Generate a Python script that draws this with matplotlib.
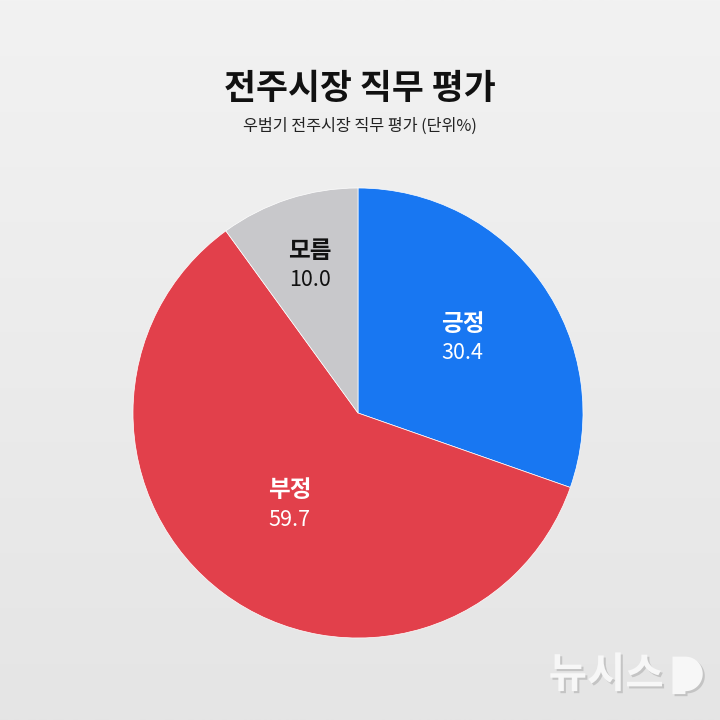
import numpy as np
import matplotlib.pyplot as plt
import matplotlib.patheffects as pe
from matplotlib.colors import LinearSegmentedColormap
from matplotlib.patches import Polygon

plt.rcParams['font.family'] = ['Noto Sans CJK KR', 'DejaVu Sans']

# 데이터
labels = ['긍정', '부정', '모름']
values = [30.4, 59.7, 10.0]
colors = ['#1877F2', '#E2404B', '#C8C8CB']
text_colors = ['white', 'white', '#111111']
label_dist = [0.57, 0.51, 0.69]

title = '전주시장 직무 평가'
subtitle = '우범기 전주시장 직무 평가 (단위%)'

fig = plt.figure(figsize=(7.2, 7.2), dpi=100)

# 배경 그라데이션
bg = fig.add_axes([0, 0, 1, 1])
grad = np.linspace(0, 1, 256).reshape(-1, 1)
cmap = LinearSegmentedColormap.from_list('bg', ['#F2F2F2', '#E5E5E5'])
bg.imshow(grad, aspect='auto', cmap=cmap, extent=[0, 1, 0, 1], origin='upper')
bg.set_xlim(0, 1)
bg.set_ylim(0, 1)
bg.axis('off')

fig.text(0.5, 0.877, title, ha='center', va='center', fontsize=25, fontweight='bold', color='#111111')
fig.text(0.5, 0.825, subtitle, ha='center', va='center', fontsize=11.7, color='#222222')

# 파이
R = 225 / 720
cx, cy = 358 / 720, 1 - 413 / 720
ax = fig.add_axes([cx - R, cy - R, 2 * R, 2 * R])
wedges, _ = ax.pie(values, colors=colors, startangle=90, counterclock=False, radius=1,
                   wedgeprops=dict(edgecolor='white', linewidth=0.5))
ax.set_xlim(-1, 1)
ax.set_ylim(-1, 1)
ax.set_aspect('equal')
ax.axis('off')

# 라벨 (항목명 + 값)
for w, lab, val, tc, d in zip(wedges, labels, values, text_colors, label_dist):
    ang = np.deg2rad((w.theta1 + w.theta2) / 2)
    x, y = d * np.cos(ang), d * np.sin(ang)
    ax.text(x, y + 0.065, lab, ha='center', va='center', fontsize=17, fontweight='bold', color=tc)
    ax.text(x, y - 0.065, f'{val:.1f}', ha='center', va='center', fontsize=15.5, color=tc)

# 로고
shadow = [pe.withSimplePatchShadow(offset=(1.5, -1.5), shadow_rgbFace='#888888', alpha=0.35)]
fig.text(0.842, 0.062, '뉴시스', ha='center', va='center', fontsize=30, fontweight='heavy',
         color='#F7F7F7', path_effects=shadow)
t = np.linspace(np.pi / 2, -np.pi / 2, 40)
arc = np.column_stack([0.952 + 0.024 * np.cos(t), 0.064 + 0.024 * np.sin(t)])
pts = np.vstack([[0.934, 0.036], [0.934, 0.088], [0.952, 0.088], arc[1:], [0.952, 0.036]])
logo = Polygon(pts, closed=True, transform=fig.transFigure, facecolor='#F7F7F7',
               edgecolor='none', path_effects=shadow)
fig.patches.append(logo)

fig.savefig('out.png', dpi=100)
